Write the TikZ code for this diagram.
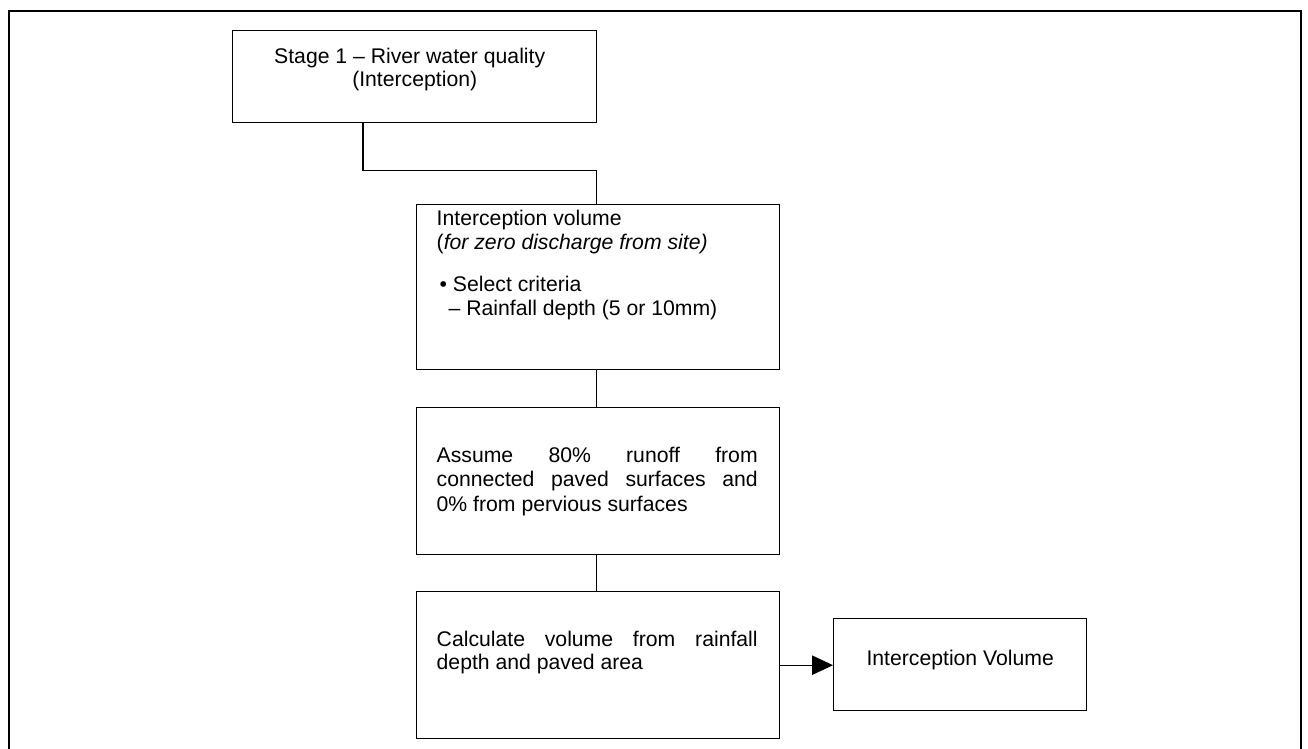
\documentclass[tikz,border=0pt]{standalone}
\usepackage{fontspec}
\setmainfont{Liberation Sans}
\usetikzlibrary{arrows.meta}
\tikzset{
  stagebox/.style={draw=black, line width=0.7pt, inner sep=0pt, anchor=north west, fill=white},
  link/.style={draw=black, line width=0.7pt},
  linkarrow/.style={link, -{Triangle[length=10.5pt,width=9.7pt]}},
  frameline/.style={draw=black, line width=1.1pt}
}
\newcommand{\boxfont}[1]{\fontsize{10.6pt}{#1}\selectfont}
\begin{document}
\begin{tikzpicture}[x=0.5pt,y=-0.5pt]
\useasboundingbox (0,0) rectangle (1308,749);
\fill[white] (0,0) rectangle (1308,749);
% outer frame (open at the bottom)
\draw[frameline] (9,750) -- (9,11) -- (1301,11) -- (1301,750);

\node[stagebox] (s1) at (232,30) {\parbox[b][46pt][t]{182pt}{\boxfont{11.75pt}\centering
  \rule{0pt}{16.15pt}Stage 1 – River water quality\kern5pt\\(Interception)}};

\node[stagebox] (b2) at (416,204) {\parbox[b][82.5pt][t]{181.5pt}{\boxfont{11.75pt}
  \leftskip=10pt\hyphenpenalty=10000
  \rule{0pt}{10.5pt}Interception volume\\
  (\textit{for zero discharge from site)}\\[9.5pt]
  \hspace*{1.5pt}• Select criteria\\
  \hspace*{6pt}– Rainfall depth (5 or 10mm)}};

\node[stagebox] (b3) at (416,407) {\parbox[b][73.5pt][t]{181.5pt}{\boxfont{12.25pt}
  \leftskip=10pt\rightskip=11pt\hyphenpenalty=10000
  \rule{0pt}{27.35pt}Assume 80\% runoff from\linebreak connected paved surfaces and\linebreak 0\% from pervious surfaces}};

\node[stagebox] (b4) at (416,591) {\parbox[b][73.5pt][t]{181.5pt}{\boxfont{11.75pt}
  \leftskip=10pt\rightskip=11pt\hyphenpenalty=10000
  \rule{0pt}{27.35pt}Calculate volume from rainfall\linebreak depth and paved area}};

\node[stagebox] (b5) at (833,618) {\parbox[b][46pt][t]{126.5pt}{\boxfont{11.75pt}\centering
  \rule{0pt}{23.5pt}Interception Volume}};

% connectors
\draw[link] ([xshift=65.5pt]s1.south west) -- ++(0,47) -| ([xshift=-1pt]b2.north);
\draw[link] ([xshift=-1pt]b2.south) -- ([xshift=-1pt]b3.north);
\draw[link] ([xshift=-1pt]b3.south) -- ([xshift=-1pt]b4.north);
\draw[linkarrow] (b4.east) -- (b4.east -| b5.west);
\end{tikzpicture}
\end{document}
